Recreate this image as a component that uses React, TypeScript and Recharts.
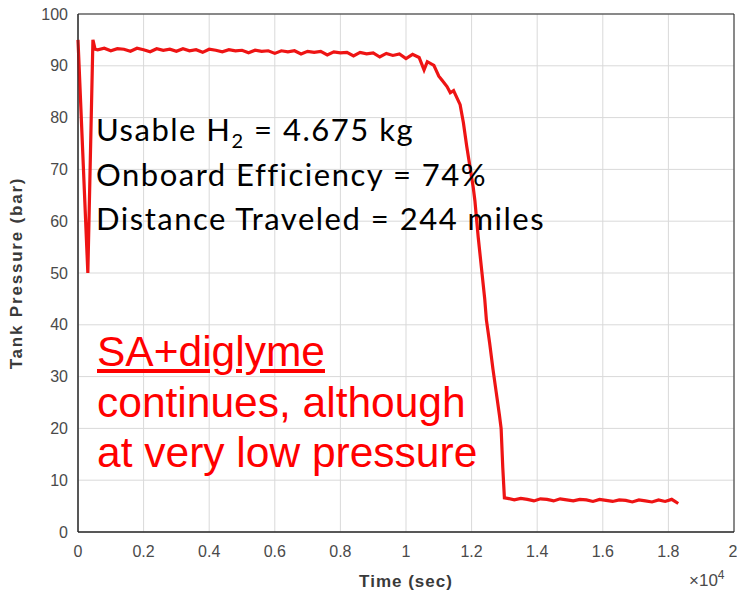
import { LineChart, Line, XAxis, YAxis, CartesianGrid, ReferenceArea } from "recharts";

// time (s) and tank pressure (bar)
const timeSec = [
  0, 300, 455, 520, 600, 800, 1000, 1200, 1400, 1600, 1800, 2000, 2200, 2400, 2600, 2800, 3000, 3200,
  3400, 3600, 3800, 4000, 4200, 4400, 4600, 4800, 5000, 5200, 5400, 5600, 5800, 6000, 6200, 6400,
  6600, 6800, 7000, 7200, 7400, 7600, 7800, 8000, 8200, 8400, 8600, 8800, 9000, 9200, 9400, 9600,
  9800, 10000, 10200, 10400, 10550, 10650, 10850, 11000, 11100, 11250, 11350, 11450, 11650, 11750,
  11850, 11950, 12050, 12100, 12200, 12300, 12400, 12450, 12550, 12650, 12750, 12850, 12900, 12950,
  13000, 13100, 13300, 13500, 13700, 13900, 14100, 14300, 14500, 14700, 14900, 15100, 15300, 15500,
  15700, 15900, 16100, 16300, 16500, 16700, 16900, 17100, 17300, 17500, 17700, 17900, 18100, 18200,
  18300,
];
const pressureBar = [
  95, 50, 95, 93.2, 93.1, 93.4, 92.9, 93.3, 93.2, 92.8, 93.4, 93.1, 92.7, 93.3, 93.0, 93.2, 92.8, 93.3,
  92.9, 93.1, 92.6, 93.2, 93.0, 92.7, 93.1, 92.9, 93.0, 92.5, 93.0, 92.8, 92.9, 92.4, 92.9, 92.7,
  92.9, 92.3, 92.8, 92.6, 92.8, 92.1, 92.7, 92.5, 92.6, 91.9, 92.6, 92.3, 92.5, 91.7, 92.4, 92.0,
  92.3, 91.4, 92.2, 91.6, 89.2, 90.8, 90.1, 88.0, 87.2, 86.0, 84.8, 85.2, 82.5, 79.0,
  74.5, 70.5, 66.5, 64.0, 57.0, 51.0, 45.0, 41.0, 36.5, 31.5, 27.0, 22.5, 20.0, 12.5,
  6.6, 6.5, 6.2, 6.5, 6.3, 6.0, 6.4, 6.3, 6.0, 6.4, 6.2, 6.0, 6.3, 6.2,
  5.9, 6.3, 6.1, 5.9, 6.2, 6.1, 5.8, 6.2, 6.0, 5.8, 6.2, 5.9, 6.3, 5.9,
  5.5,
];
const xTicks = [0, 2000, 4000, 6000, 8000, 10000, 12000, 14000, 16000, 18000, 20000];
const yTicks = [0, 10, 20, 30, 40, 50, 60, 70, 80, 90, 100];

const statsLines = ["Onboard Efficiency = 74%", "Distance Traveled = 244 miles"];
const noteLines = ["continues, although", "at very low pressure"];

const data = timeSec.map((t, i) => ({ t, p: pressureBar[i] }));

const tickStyle = { fontFamily: "'Liberation Sans', Arial, sans-serif", fontSize: 16, fill: "#4a4a4a" };

export default function App() {
  return (
    <div style={{ position: "relative", width: 737, height: 595, background: "#fff" }}>
      <style>{"body{margin:0}"}</style>
      <LineChart width={737} height={595} data={data} margin={{ top: 14, right: 3, bottom: 0, left: 0 }}>
        <CartesianGrid stroke="#d9d9d9" horizontalValues={yTicks} verticalValues={xTicks} />
        <XAxis
          type="number"
          dataKey="t"
          domain={[0, 20000]}
          ticks={xTicks}
          tickFormatter={(v: number) => String(v / 10000)}
          tick={tickStyle}
          tickLine={false}
          tickSize={0}
          tickMargin={14}
          height={63}
          axisLine={{ stroke: "#262626" }}
        />
        <YAxis
          type="number"
          domain={[0, 100]}
          ticks={yTicks}
          tick={tickStyle}
          tickLine={false}
          tickSize={0}
          tickMargin={10}
          width={78}
          axisLine={{ stroke: "#262626" }}
        />
        <ReferenceArea x1={0} x2={20000} y1={0} y2={100} fill="none" stroke="#262626" strokeWidth={1} />
        <Line
          type="linear"
          dataKey="p"
          stroke="#ee1414"
          strokeWidth={3.2}
          dot={false}
          isAnimationActive={false}
        />
      </LineChart>

      {/* axis titles */}
      <div
        style={{
          position: "absolute", left: 406, top: 582, transform: "translate(-50%,-50%)",
          font: "bold 17px 'Liberation Sans', Arial, sans-serif", letterSpacing: 1, color: "#3a3a3a", whiteSpace: "nowrap",
        }}
      >
        Time (sec)
      </div>
      <div
        style={{
          position: "absolute", left: 17, top: 273, transform: "translate(-50%,-50%) rotate(-90deg)",
          font: "bold 17px 'Liberation Sans', Arial, sans-serif", letterSpacing: 1.8, color: "#3a3a3a", whiteSpace: "nowrap",
        }}
      >
        Tank Pressure (bar)
      </div>
      <div
        style={{
          position: "absolute", left: 689, top: 571, lineHeight: "20px",
          font: "17px 'Liberation Sans', Arial, sans-serif", color: "#4a4a4a", whiteSpace: "nowrap",
        }}
      >
        ×10<sup style={{ fontSize: 12, lineHeight: 0 }}>4</sup>
      </div>

      {/* black annotation */}
      <div
        style={{
          position: "absolute", left: 96, top: 107,
          font: "31px Lato, sans-serif", letterSpacing: 1.5, lineHeight: "44.5px", color: "#000", whiteSpace: "nowrap",
        }}
      >
        <div>
          Usable H<sub style={{ fontSize: 20, lineHeight: 0 }}>2</sub> = 4.675 kg
        </div>
        {statsLines.map((s) => (
          <div key={s}>{s}</div>
        ))}
      </div>

      {/* red annotation */}
      <div
        style={{
          position: "absolute", left: 97, top: 327,
          font: "42.5px 'Liberation Sans', Arial, sans-serif", lineHeight: "50.5px", color: "#ff0000", whiteSpace: "nowrap",
        }}
      >
        <div style={{ textDecoration: "underline" }}>SA+diglyme</div>
        {noteLines.map((s) => (
          <div key={s}>{s}</div>
        ))}
      </div>
    </div>
  );
}
